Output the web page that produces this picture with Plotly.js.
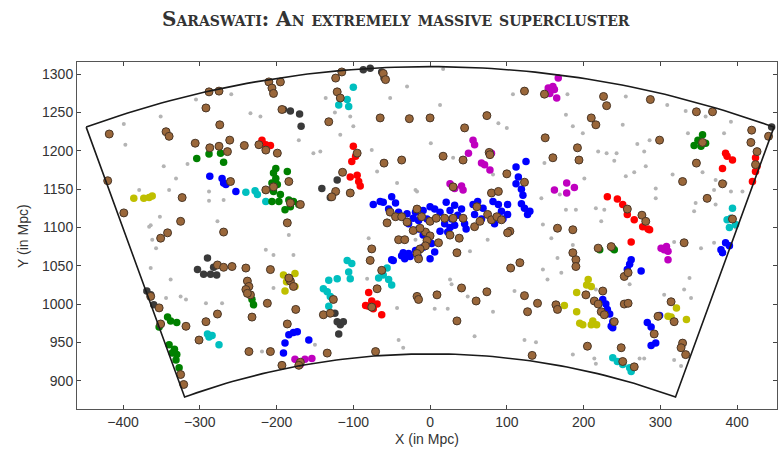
<!DOCTYPE html>
<html>
<head>
<meta charset="utf-8">
<script src="https://cdn.plot.ly/plotly-3.0.1.min.js"></script>
<style>
  html, body { margin: 0; padding: 0; background: #fff; }
  #chart { width: 779px; height: 451px; }
</style>
</head>
<body>
<div id="chart"></div>
<script>
// Galaxy positions (X, Y in Mpc) in the slice around the Saraswati supercluster.
// Field galaxies (small grey dots)
const fieldGalaxies = [
  [-259,1274],[-305,1267],[-351,1245],[-399,1235],[-397,1208],[-347,1180],[-316,1183],[-331,1164],[-379,1149],[-340,1149],[-288,1147],[-288,1135],[-269,1136],[-352,1114],[-277,1108],[-366,1101],
  [-234,1249],[-221,1245],[-136,1269],[-104,1245],[-100,1232],[-117,1221],[-171,1214],[-152,1197],[-143,1199],[-76,1201],[-69,1173],[-43,1158],[-30,1284],[-52,1269],[-124,1250],[-19,1149],
  [17,1307],[13,1260],[108,1274],[179,1274],[177,1247],[199,1223],[186,1232],[89,1236],[100,1230],[1,1210],[30,1191],[149,1184],[82,1169],[-17,1147],[145,1138],[169,1143],[177,1123],[190,1123],[147,1104],[201,1164],
  [255,1271],[309,1260],[333,1252],[359,1245],[392,1238],[251,1234],[336,1223],[383,1223],[270,1209],[286,1214],[219,1199],[230,1197],[243,1197],[279,1199],[240,1187],[281,1180],[255,1167],[266,1172],[316,1169],[355,1172],[372,1162],[385,1158],[294,1151],[370,1149],[392,1147],[407,1147],[294,1138],[372,1130],[346,1132],[216,1125],[227,1123],[344,1121],[223,1108],[398,1100],
  [-362,1084],[-357,1073],[-364,1047],[-338,1032],[-344,1008],[-325,1010],[-318,1006],[-292,1001],[-271,1001],[-364,1103],
  [-184,1090],[-214,1071],[-204,1064],[-178,1064],[-80,1086],[-82,1033],[-150,947],[-41,953],[-35,943],[-43,995],[-219,938],[-204,1021],[-19,1084],
  [75,1084],[52,1069],[26,1032],[28,1026],[6,994],[23,994],[49,1010],[82,990],[58,958],[110,1017],[123,953],[138,950],[147,1045],[171,1041],[153,1032],[158,1086],[166,1060],[186,934],[186,1077],
  [318,1081],[353,1073],[370,1080],[338,1034],[260,1026],[331,1019],[305,1012],[340,1008],[216,1019],[214,929],[216,922],[273,929],[279,929],[318,927],[327,919]
];

// Group member galaxies (brown)
const groupGalaxies = [
  [-288,1277],[-275,1278],[-292,1256],[-274,1234],[-418,1222],[-344,1225],[-340,1219],[-306,1210],[-261,1214],[-242,1207],[-287,1204],[-275,1206],[-264,1199],[-420,1161],[-260,1160],[-323,1139],[-399,1119],[-325,1108],[-342,1093],[-269,1094],
  [-115,1303],[-123,1295],[-61,1301],[-58,1293],[-210,1290],[-206,1282],[-204,1275],[-195,1290],[-121,1277],[-117,1269],[-193,1254],[-132,1238],[-65,1243],[-27,1242],[-223,1208],[-214,1201],[-199,1197],[-95,1197],[-60,1184],[-37,1188],[-114,1172],[-184,1160],[-214,1149],[-204,1153],[-123,1147],[-128,1140],[-104,1145],[-182,1132],[-169,1130],[-186,1106],[-56,1106],
  [123,1278],[149,1274],[0,1243],[74,1246],[45,1230],[150,1217],[192,1204],[160,1191],[194,1188],[17,1193],[43,1188],[77,1198],[78,1195],[100,1170],[123,1159],[30,1153],[80,1145],[89,1147],[61,1127],[166,1099],[186,1097],[104,1095],
  [-52,1120],[-45,1114],[-37,1114],[-30,1107],[-11,1114],[0,1108],[8,1112],[19,1112],[30,1112],[43,1112],[58,1101],[65,1108],[75,1117],[80,1110],[87,1114],[93,1110],[-6,1094],[0,1089],[-4,1083],[-6,1076],[-13,1072],[-17,1066],[-15,1059],[-41,1084],[-33,1084],[-22,1096],[-17,1124],[-13,1099],[11,1080],[26,1090],[38,1086],[35,1067],[101,1093],
  [226,1271],[230,1259],[287,1267],[347,1251],[368,1251],[210,1243],[216,1234],[299,1214],[355,1211],[419,1227],[418,1211],[441,1219],[347,1184],[426,1199],[424,1182],[329,1160],[381,1157],[361,1138],[257,1124],[276,1116],[281,1108],[394,1111],
  [-351,1086],[-277,1051],[-269,1048],[-258,1049],[-240,1047],[-364,1010],[-353,995],[-351,974],[-277,987],[-292,977],[-318,971],[-301,953],[-325,908],[-321,895],[-236,938],
  [-208,1045],[-238,1030],[-236,1023],[-240,1019],[-234,1012],[-238,1014],[-212,1001],[-232,983],[-182,1030],[-178,1023],[-184,1034],[-175,993],[-186,974],[-208,938],[-193,920],[-169,924],[-171,920],[-134,936],[-126,1006],[-139,986],[-130,988],[-76,1072],[-78,1057],[-63,1044],[-69,1020],[-76,996],[-17,1010],[-71,938],
  [190,1058],[186,1067],[190,1049],[41,1021],[-15,1006],[9,1012],[60,1004],[74,1016],[35,978],[123,1011],[140,1001],[127,990],[164,999],[166,993],[133,933],[203,1012],[205,945],[105,1047],[117,1054],
  [219,1073],[236,1075],[331,1080],[253,1036],[258,1041],[225,1017],[214,1004],[219,1000],[223,990],[227,986],[240,977],[253,1000],[258,1001],[314,1003],[318,977],[297,984],[292,961],[249,943],[329,949],[327,943],[333,934],[251,925],[266,918]
];

// Members of the individual clusters, one list per colour
const blueCluster = [
  [-287,1167],[-271,1164],[-269,1158],[-266,1156],[-253,1147],
  [-74,1130],[-61,1133],[-50,1140],[-65,1134],[-45,1132],[-54,1124],[-41,1120],[-30,1118],[-19,1120],[-9,1122],[6,1124],[-4,1111],[-15,1109],[-28,1105],[-22,1112],
  [21,1133],[32,1129],[41,1124],[26,1122],[36,1116],[28,1111],[19,1105],[32,1103],[45,1105],[47,1098],[23,1094],[56,1130],[62,1134],[69,1125],[58,1117],[67,1111],
  [82,1134],[89,1130],[93,1121],[101,1130],[101,1117],[95,1111],[84,1105],[112,1179],[125,1186],[115,1166],[112,1157],[119,1150],[121,1142],[119,1131],[123,1125],[130,1121],[127,1117],
  [0,1127],[13,1120],[13,1095],[26,1100],[-15,1098],[-9,1090],[-2,1087],[-4,1081],[2,1079],[-9,1074],[-19,1070],[-28,1066],[-37,1063],[-48,1057],[-33,1059],[-15,1061],[0,1059],[6,1068],[-17,1069],[-26,1062],[-50,1058],[-35,1067],
  [-178,963],[-173,964],[-184,960],[-189,949],[-191,936],[-158,953],
  [262,1058],[260,1052],[257,1045],[275,1043],[225,1006],[229,1000],[231,993],[234,987],[238,977],[236,971],[238,969],[283,976],[288,970],[292,961],[299,985],[288,946],[294,949],
  [385,1080],[381,1067],[379,1071],[390,1076]
];
const greenCluster = [
  [-304,1190],[-288,1196],[-273,1197],[-269,1185],
  [-201,1177],[-204,1171],[-201,1164],[-206,1158],[-186,1173],[-199,1156],[-204,1147],[-195,1143],[-197,1134],[-184,1136],[-182,1127],[-189,1123],[-178,1134],[-171,1130],[-206,1134],
  [355,1221],[349,1214],[344,1207],[359,1210],[353,1206],
  [-342,983],[-330,976],[-338,978],[-353,970],[-340,947],[-333,941],[-330,934],[-331,927],[-327,917],[-336,936],
  [-232,1006],[-230,999],[221,1071],[238,1073],[240,1071]
];
const redCluster = [
  [-219,1214],[-214,1208],[-208,1207],
  [-100,1206],[-102,1186],[-97,1193],[-104,1166],[-95,1168],[-91,1154],[-93,1160],
  [385,1197],[394,1188],[387,1193],[381,1177],[424,1191],[426,1180],[424,1173],[420,1160],
  [231,1140],[244,1137],[251,1130],[257,1117],[266,1110],[277,1101],[286,1097],[262,1081],[284,1098],
  [-80,1015],[-76,1004],[-84,998],[-80,997],[-69,1000],[-74,994],[-63,986]
];
const cyanCluster = [
  [-100,1283],[-119,1260],[-108,1267],[-106,1258],
  [-240,1146],[-228,1148],[-214,1134],[-225,1143],
  [394,1125],[392,1112],[398,1104],[387,1110],[390,1100],
  [-290,961],[-284,959],[-275,947],[-288,957],
  [-108,1057],[-102,1053],[-106,1042],[-104,1033],[-121,1033],[-132,1031],[-139,1020],[-134,1016],[-130,1010],[-132,997],
  [-56,1047],[-61,1038],[-67,1034],[-54,1032],[-50,1025],
  [238,930],[244,925],[251,921],[262,912],[260,917]
];
const magentaCluster = [
  [167,1295],[160,1284],[154,1282],[156,1275],[165,1269],[162,1280],
  [56,1214],[58,1208],[50,1197],[71,1182],[78,1175],[67,1184],[80,1197],
  [26,1157],[41,1154],[43,1149],[32,1151],
  [162,1149],[178,1158],[188,1152],[178,1145],
  [-176,928],[-163,928],[-154,929],[-169,921],
  [301,1073],[308,1075],[310,1069],[310,1058],[305,1071]
];
const yellowCluster = [
  [-386,1138],[-373,1138],[-366,1139],[-362,1141],
  [-191,1038],[-176,1040],[-187,1029],[-176,1023],[-189,1017],
  [191,1015],[175,998],[191,990],[195,975],[199,973],[206,1032],[204,1025],[210,1023],[212,978],[217,973],[210,973],
  [310,984],[321,995],[334,980],[314,983]
];
const blackCluster = [
  [-87,1306],[-78,1308],[-63,1303],[-60,1295],
  [-191,1254],[-182,1252],[-170,1248],[-168,1232],
  [-121,1162],[-141,1151],[-130,1139],
  [-290,1060],[-303,1045],[-295,1039],[-286,1039],[-278,1038],[-282,1048],
  [-369,1017],[-364,1012],[-360,999],
  [-124,988],[-121,977],[-117,973],[-113,977],[-119,961],
  [445,1231]
];

// Survey slice boundary: annular sector between two comoving radii
const innerRadius = 935;
const outerRadius = 1310;
const halfAngleDeg = 20;

const xTicks = [-400, -300, -200, -100, 0, 100, 200, 300, 400];
const yTicks = [900, 950, 1000, 1050, 1100, 1150, 1200, 1250, 1300];

function wedgeOutline() {
  const xs = [], ys = [];
  const n = 80;
  const a0 = -halfAngleDeg * Math.PI / 180, a1 = halfAngleDeg * Math.PI / 180;
  for (let i = 0; i <= n; i++) {
    const a = a0 + (a1 - a0) * i / n;
    xs.push(outerRadius * Math.sin(a)); ys.push(outerRadius * Math.cos(a));
  }
  for (let i = 0; i <= n; i++) {
    const a = a1 - (a1 - a0) * i / n;
    xs.push(innerRadius * Math.sin(a)); ys.push(innerRadius * Math.cos(a));
  }
  xs.push(xs[0]); ys.push(ys[0]);
  return { xs, ys };
}

function pointsTrace(pts, marker) {
  return {
    type: 'scatter', mode: 'markers', hoverinfo: 'skip',
    x: pts.map(p => p[0]), y: pts.map(p => p[1]),
    marker: marker
  };
}

const clusterSize = 7.5;
const w = wedgeOutline();
const traces = [
  pointsTrace(fieldGalaxies, { size: 4, color: '#b4b4b4', line: { width: 0 } }),
  pointsTrace(blackCluster, { size: clusterSize, color: '#3a3a3a', line: { width: 0 } }),
  pointsTrace(cyanCluster, { size: clusterSize, color: '#00bfbf', line: { width: 0 } }),
  pointsTrace(greenCluster, { size: clusterSize, color: '#008000', line: { width: 0 } }),
  pointsTrace(redCluster, { size: clusterSize, color: '#ff0000', line: { width: 0 } }),
  pointsTrace(yellowCluster, { size: clusterSize, color: '#bfbf00', line: { width: 0 } }),
  pointsTrace(magentaCluster, { size: clusterSize, color: '#bf00bf', line: { width: 0 } }),
  pointsTrace(blueCluster, { size: clusterSize, color: '#0000ff', line: { width: 0 } }),
  pointsTrace(groupGalaxies, { size: 8, color: '#9a673a', line: { width: 1, color: '#4a3626' } }),
  {
    type: 'scatter', mode: 'lines', hoverinfo: 'skip',
    x: w.xs, y: w.ys, line: { color: '#1a1a1a', width: 1.6 }
  }
];

const axisFont = { family: 'Liberation Sans, Arial, sans-serif', size: 14, color: '#333' };
const layout = {
  width: 779, height: 451,
  margin: { l: 77, r: 2, t: 62, b: 42 },
  paper_bgcolor: '#fff', plot_bgcolor: '#fff',
  showlegend: false,
  title: {
    text: 'Saraswati: An extremely massive supercluster',
    font: { family: 'DejaVu Serif, serif', size: 20, color: '#333', variant: 'small-caps', weight: 'bold' },
    x: 0.508, xanchor: 'center', xref: 'container',
    y: 0.958, yanchor: 'middle', yref: 'container'
  },
  xaxis: {
    range: [-460, 452], tickvals: xTicks, ticks: 'inside', ticklen: 4, tickcolor: '#444',
    showline: true, linecolor: '#555', linewidth: 1, mirror: 'ticks',
    showgrid: false, zeroline: false, tickfont: axisFont, automargin: false,
    title: { text: 'X (in Mpc)', font: axisFont, standoff: 5 }
  },
  yaxis: {
    range: [863, 1316], tickvals: yTicks, ticks: 'inside', ticklen: 4, tickcolor: '#444',
    showline: true, linecolor: '#555', linewidth: 1, mirror: 'ticks',
    showgrid: false, zeroline: false, tickfont: axisFont, automargin: false
  },
  annotations: [{
    text: 'Y (in Mpc)', font: axisFont, textangle: -90, showarrow: false,
    xref: 'paper', yref: 'paper', x: -0.078, y: 0.5, xanchor: 'center', yanchor: 'middle'
  }]
};

Plotly.newPlot('chart', traces, layout, { staticPlot: true, displayModeBar: false });
</script>
</body>
</html>
